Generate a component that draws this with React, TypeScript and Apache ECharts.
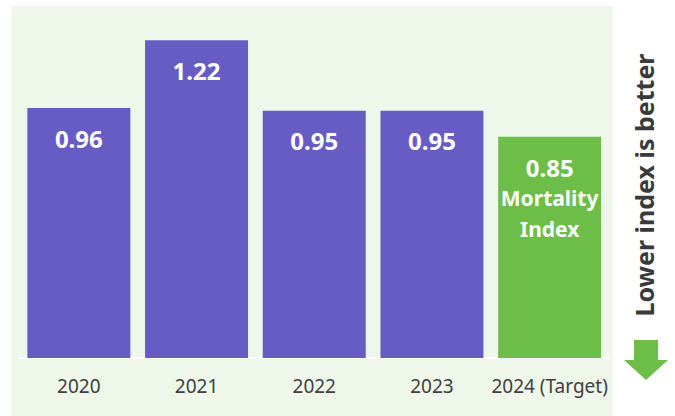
import React, { useEffect, useRef } from "react";
import * as echarts from "echarts";

const categories = ["2020", "2021", "2022", "2023", "2024 (Target)"];
const values = [0.96, 1.22, 0.95, 0.95, 0.85];
const targetIndex = 4;
const targetLabelLines = ["Mortality", "Index"];
const sideNote = "Lower index is better";

const PURPLE = "#675cc4";
const GREEN = "#6cbe48";
const PANEL = "#eff6ea";
const FONT = "'Noto Sans', sans-serif";

export default function App() {
  const ref = useRef<HTMLDivElement>(null);
  useEffect(() => {
    if (!ref.current) return;
    const chart = echarts.init(ref.current, undefined, { renderer: "svg" });
    const data = values.map((v, i) => {
      if (i === targetIndex) {
        return {
          value: v,
          itemStyle: { color: GREEN },
          label: {
            distance: 15,
            formatter: () =>
              `{v|${v.toFixed(2)}}\n` + targetLabelLines.map((l) => `{t|${l}}`).join("\n"),
            rich: {
              v: { fontSize: 24, fontWeight: "bold", color: "#fff", fontFamily: FONT, lineHeight: 31 },
              t: { fontSize: 21, fontWeight: "bold", color: "#fff", fontFamily: FONT, lineHeight: 31 },
            },
          },
        };
      }
      return { value: v, itemStyle: { color: PURPLE } };
    });
    chart.setOption({
      animation: false,
      backgroundColor: "#ffffff",
      grid: { left: 20, right: 66.5, top: 19.5, bottom: 58 },
      xAxis: {
        type: "category",
        data: categories,
        axisLine: { show: true, lineStyle: { color: "#ffffff", width: 2 } },
        axisTick: { show: false },
        axisLabel: { color: "#404040", fontSize: 19, fontFamily: FONT, margin: 18, interval: 0 },
      },
      yAxis: { type: "value", min: 0, max: 1.3, show: false, splitLine: { show: false } },
      graphic: [
        {
          type: "rect",
          z: -10,
          silent: true,
          shape: { x: 11, y: 6, width: 602, height: 410 },
          style: { fill: PANEL },
        },
        {
          type: "text",
          x: 644,
          y: 185,
          rotation: Math.PI / 2,
          style: {
            text: sideNote,
            fontSize: 25,
            fontWeight: "bold",
            fontFamily: FONT,
            fill: "#3a3a3a",
            align: "center",
            verticalAlign: "middle",
          },
        },
        {
          type: "polygon",
          shape: {
            points: [
              [634, 340],
              [658, 340],
              [658, 360],
              [668, 360],
              [646, 380],
              [624, 360],
              [634, 360],
            ],
          },
          style: { fill: GREEN },
        },
      ],
      series: [
        {
          type: "bar",
          data,
          barCategoryGap: "12.5%",
          label: {
            show: true,
            position: "insideTop",
            distance: 18,
            color: "#fff",
            fontSize: 24,
            fontWeight: "bold",
            fontFamily: FONT,
            formatter: (p: any) => Number(p.value).toFixed(2),
          },
        },
      ],
    });
    return () => chart.dispose();
  }, []);
  return (
    <div
      ref={ref}
      style={{ position: "fixed", left: 0, top: 0, width: 675, height: 416 }}
    />
  );
}
